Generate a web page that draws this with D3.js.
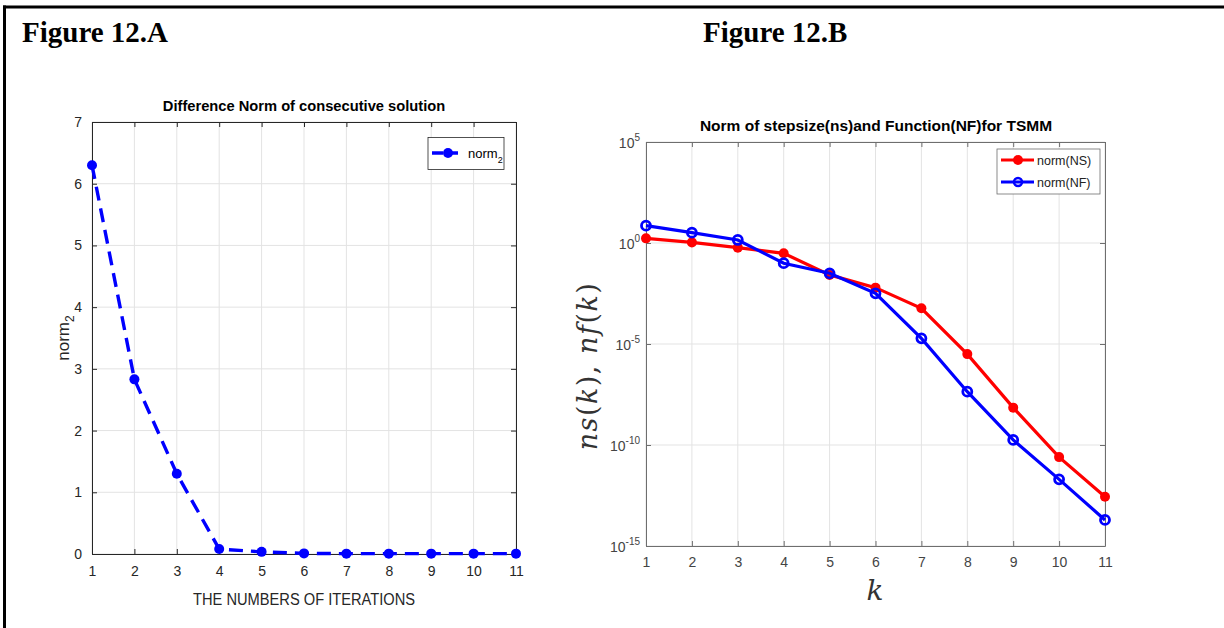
<!DOCTYPE html>
<html>
<head>
<meta charset="utf-8">
<script src="https://cdn.jsdelivr.net/npm/d3@7"></script>
<style>
  body { margin: 0; background: #fff; }
  svg { display: block; }
</style>
</head>
<body>
<svg id="fig" width="1224" height="628"></svg>
<script>
// data
const iterations = [1, 2, 3, 4, 5, 6, 7, 8, 9, 10, 11];
const norm2 = [6.3, 2.83, 1.3, 0.08, 0.035, 0.01, 0.006, 0.006, 0.006, 0.006, 0.006];
const yTicksA = [0, 1, 2, 3, 4, 5, 6, 7];

// log10 exponents of ns(k) and nf(k)
const nsExp = [0.23, 0.03, -0.23, -0.51, -1.58, -2.21, -3.23, -5.5, -8.15, -10.6, -12.56];
const nfExp = [0.86, 0.51, 0.15, -1.0, -1.5, -2.49, -4.72, -7.36, -9.75, -11.7, -13.71];
const yTicksB = [5, 0, -5, -10, -15];

const svg = d3.select('#fig');
const axisCol = '#262626';
const gridCol = '#e3e3e3';

// page frame
svg.append('line').attr('x1', 3).attr('x2', 1224).attr('y1', 7).attr('y2', 7)
  .attr('stroke', '#000').attr('stroke-width', 3);
svg.append('line').attr('x1', 4.5).attr('x2', 4.5).attr('y1', 5.5).attr('y2', 628)
  .attr('stroke', '#000').attr('stroke-width', 3);

svg.append('text').attr('x', 22).attr('y', 42)
  .attr('font-family', 'Liberation Serif').attr('font-weight', 'bold').attr('font-size', 29)
  .text('Figure 12.A');
svg.append('text').attr('x', 703).attr('y', 42)
  .attr('font-family', 'Liberation Serif').attr('font-weight', 'bold').attr('font-size', 29)
  .text('Figure 12.B');

//---------- chart A ----------//
const A = { left: 92, right: 516, top: 122, bottom: 554 };
const xA = d3.scaleLinear().domain([1, 11]).range([A.left, A.right]);
const yA = d3.scaleLinear().domain([0, 7]).range([A.bottom, A.top]);
const gA = svg.append('g').attr('font-family', 'Liberation Sans');

// grid
gA.append('g').selectAll('line').data(iterations).join('line')
  .attr('x1', d => xA(d)).attr('x2', d => xA(d)).attr('y1', A.top).attr('y2', A.bottom)
  .attr('stroke', gridCol);
gA.append('g').selectAll('line').data(yTicksA).join('line')
  .attr('x1', A.left).attr('x2', A.right).attr('y1', d => yA(d)).attr('y2', d => yA(d))
  .attr('stroke', gridCol);

// axes, ticks inward
const styleAxis = (g, col) => {
  g.select('.domain').attr('stroke', col);
  g.selectAll('.tick line').attr('stroke', col);
  g.selectAll('.tick text').attr('fill', col);
};
gA.append('g').attr('transform', `translate(0,${A.bottom})`)
  .call(d3.axisBottom(xA).tickValues(iterations).tickFormat(d3.format('d')).tickSize(-5).tickSizeOuter(0).tickPadding(12))
  .call(g => styleAxis(g, axisCol))
  .call(g => g.selectAll('text').attr('font-size', 14).attr('font-family', 'Liberation Sans'));
gA.append('g').attr('transform', `translate(0,${A.top})`)
  .call(d3.axisTop(xA).tickValues(iterations).tickFormat('').tickSize(-5).tickSizeOuter(0))
  .call(g => styleAxis(g, axisCol));
gA.append('g').attr('transform', `translate(${A.left},0)`)
  .call(d3.axisLeft(yA).tickValues(yTicksA).tickFormat(d3.format('d')).tickSize(-5).tickSizeOuter(0).tickPadding(10))
  .call(g => styleAxis(g, axisCol))
  .call(g => g.selectAll('text').attr('font-size', 14).attr('font-family', 'Liberation Sans'));
gA.append('g').attr('transform', `translate(${A.right},0)`)
  .call(d3.axisRight(yA).tickValues(yTicksA).tickFormat('').tickSize(-5).tickSizeOuter(0))
  .call(g => styleAxis(g, axisCol));

// dashed line + markers
const lineA = d3.line().x((d, i) => xA(iterations[i])).y(d => yA(d));
gA.append('path').attr('d', lineA(norm2)).attr('fill', 'none')
  .attr('stroke', '#0000ff').attr('stroke-width', 3.4).attr('stroke-dasharray', '14,8');
gA.append('g').selectAll('circle').data(norm2).join('circle')
  .attr('cx', (d, i) => xA(iterations[i])).attr('cy', d => yA(d)).attr('r', 5)
  .attr('fill', '#0000ff');

gA.append('text').attr('x', (A.left + A.right) / 2).attr('y', 111)
  .attr('text-anchor', 'middle').attr('font-weight', 'bold').attr('font-size', 14.7).attr('fill', '#000')
  .text('Difference Norm of consecutive solution');
gA.append('text').attr('x', (A.left + A.right) / 2).attr('y', 605)
  .attr('text-anchor', 'middle').attr('font-size', 16).attr('fill', axisCol)
  .attr('textLength', 222).attr('lengthAdjust', 'spacingAndGlyphs')
  .text('THE NUMBERS OF ITERATIONS');
const yLabA = gA.append('text').attr('transform', `translate(69,338) rotate(-90)`)
  .attr('text-anchor', 'middle').attr('font-size', 17).attr('fill', axisCol);
yLabA.append('tspan').text('norm');
yLabA.append('tspan').attr('font-size', 12).attr('dy', 5).text('2');

// legend A
const legA = gA.append('g');
legA.append('rect').attr('x', 428).attr('y', 137.5).attr('width', 76).attr('height', 32)
  .attr('fill', '#fff').attr('stroke', axisCol).attr('stroke-width', 0.8);
legA.append('line').attr('x1', 432).attr('x2', 462).attr('y1', 153).attr('y2', 153)
  .attr('stroke', '#0000ff').attr('stroke-width', 3.4).attr('stroke-dasharray', '11,4');
legA.append('circle').attr('cx', 448).attr('cy', 153).attr('r', 5).attr('fill', '#0000ff');
const legAText = legA.append('text').attr('x', 468).attr('y', 158).attr('font-size', 13).attr('fill', '#000');
legAText.append('tspan').text('norm');
legAText.append('tspan').attr('font-size', 9).attr('dy', 5).text('2');

//---------- chart B ----------//
const B = { left: 646, right: 1105, top: 142, bottom: 546 };
const xB = d3.scaleLinear().domain([1, 11]).range([B.left, B.right]);
const yB = d3.scaleLinear().domain([-15, 5]).range([B.bottom, B.top]);
const colB = '#6e6e6e';
const gB = svg.append('g').attr('font-family', 'Liberation Sans');

gB.append('g').selectAll('line').data(iterations).join('line')
  .attr('x1', d => xB(d)).attr('x2', d => xB(d)).attr('y1', B.top).attr('y2', B.bottom)
  .attr('stroke', gridCol);
gB.append('g').selectAll('line').data(yTicksB).join('line')
  .attr('x1', B.left).attr('x2', B.right).attr('y1', d => yB(d)).attr('y2', d => yB(d))
  .attr('stroke', gridCol);

gB.append('g').attr('transform', `translate(0,${B.bottom})`)
  .call(d3.axisBottom(xB).tickValues(iterations).tickFormat(d3.format('d')).tickSize(-5).tickSizeOuter(0).tickPadding(11))
  .call(g => styleAxis(g, colB))
  .call(g => g.selectAll('text').attr('font-size', 14).attr('font-family', 'Liberation Sans').attr('fill', '#444'));
gB.append('g').attr('transform', `translate(0,${B.top})`)
  .call(d3.axisTop(xB).tickValues(iterations).tickFormat('').tickSize(-5).tickSizeOuter(0))
  .call(g => styleAxis(g, colB));
gB.append('g').attr('transform', `translate(${B.right},0)`)
  .call(d3.axisRight(yB).tickValues(yTicksB).tickFormat('').tickSize(-5).tickSizeOuter(0))
  .call(g => styleAxis(g, colB));
const yAxB = gB.append('g').attr('transform', `translate(${B.left},0)`)
  .call(d3.axisLeft(yB).tickValues(yTicksB).tickFormat('').tickSize(-5).tickSizeOuter(0))
  .call(g => styleAxis(g, colB));
// power-of-ten tick labels
yAxB.selectAll('.tick').append('text')
  .attr('x', -6).attr('y', 5).attr('text-anchor', 'end').attr('fill', '#444')
  .attr('font-size', 14).attr('font-family', 'Liberation Sans')
  .each(function (d) {
    const t = d3.select(this);
    t.append('tspan').text('10');
    t.append('tspan').attr('font-size', 10).attr('dy', -7).text(d);
  });

const lineB = d3.line().x((d, i) => xB(iterations[i])).y(d => yB(d));
gB.append('path').attr('d', lineB(nsExp)).attr('fill', 'none')
  .attr('stroke', '#ff0000').attr('stroke-width', 3.2);
gB.append('g').selectAll('circle').data(nsExp).join('circle')
  .attr('cx', (d, i) => xB(iterations[i])).attr('cy', d => yB(d)).attr('r', 5)
  .attr('fill', '#ff0000');
gB.append('path').attr('d', lineB(nfExp)).attr('fill', 'none')
  .attr('stroke', '#0000ff').attr('stroke-width', 3.2);
gB.append('g').selectAll('circle').data(nfExp).join('circle')
  .attr('cx', (d, i) => xB(iterations[i])).attr('cy', d => yB(d)).attr('r', 4.5)
  .attr('fill', 'none').attr('stroke', '#0000ff').attr('stroke-width', 2.8);

gB.append('text').attr('x', 876).attr('y', 131)
  .attr('text-anchor', 'middle').attr('font-weight', 'bold').attr('font-size', 15.5).attr('fill', '#000')
  .text('Norm of stepsize(ns)and Function(NF)for TSMM');
gB.append('text').attr('x', 875).attr('y', 600)
  .attr('text-anchor', 'middle').attr('font-family', 'DejaVu Serif').attr('font-style', 'italic')
  .attr('font-size', 28).attr('fill', '#333').text('k');
const yLabB = gB.append('text').attr('transform', `translate(597,366) rotate(-90)`)
  .attr('text-anchor', 'middle').attr('font-family', 'DejaVu Serif').attr('font-size', 27)
  .attr('letter-spacing', 1.5).attr('fill', '#333');
[['ns', true], ['(', false], ['k', true], '), ', ['nf', true], ['(', false], ['k', true], [')', false]]
  .map(p => Array.isArray(p) ? p : [p, false])
  .forEach(([s, it]) => yLabB.append('tspan').attr('font-style', it ? 'italic' : 'normal').text(s));

// legend B
const legB = gB.append('g');
legB.append('rect').attr('x', 997).attr('y', 149).attr('width', 103).attr('height', 45)
  .attr('fill', '#fff').attr('stroke', colB).attr('stroke-width', 0.8);
[['#ff0000', 'norm(NS)', true], ['#0000ff', 'norm(NF)', false]].forEach(([c, label, filled], i) => {
  const y = 160 + i * 22;
  legB.append('line').attr('x1', 1001).attr('x2', 1034).attr('y1', y).attr('y2', y)
    .attr('stroke', c).attr('stroke-width', 3.2);
  legB.append('circle').attr('cx', 1018).attr('cy', y).attr('r', filled ? 5 : 4)
    .attr('fill', filled ? c : 'none').attr('stroke', c).attr('stroke-width', filled ? 0 : 2.5);
  legB.append('text').attr('x', 1037).attr('y', y + 4.5).attr('font-size', 12.5).attr('fill', '#222').text(label);
});
</script>
</body>
</html>
